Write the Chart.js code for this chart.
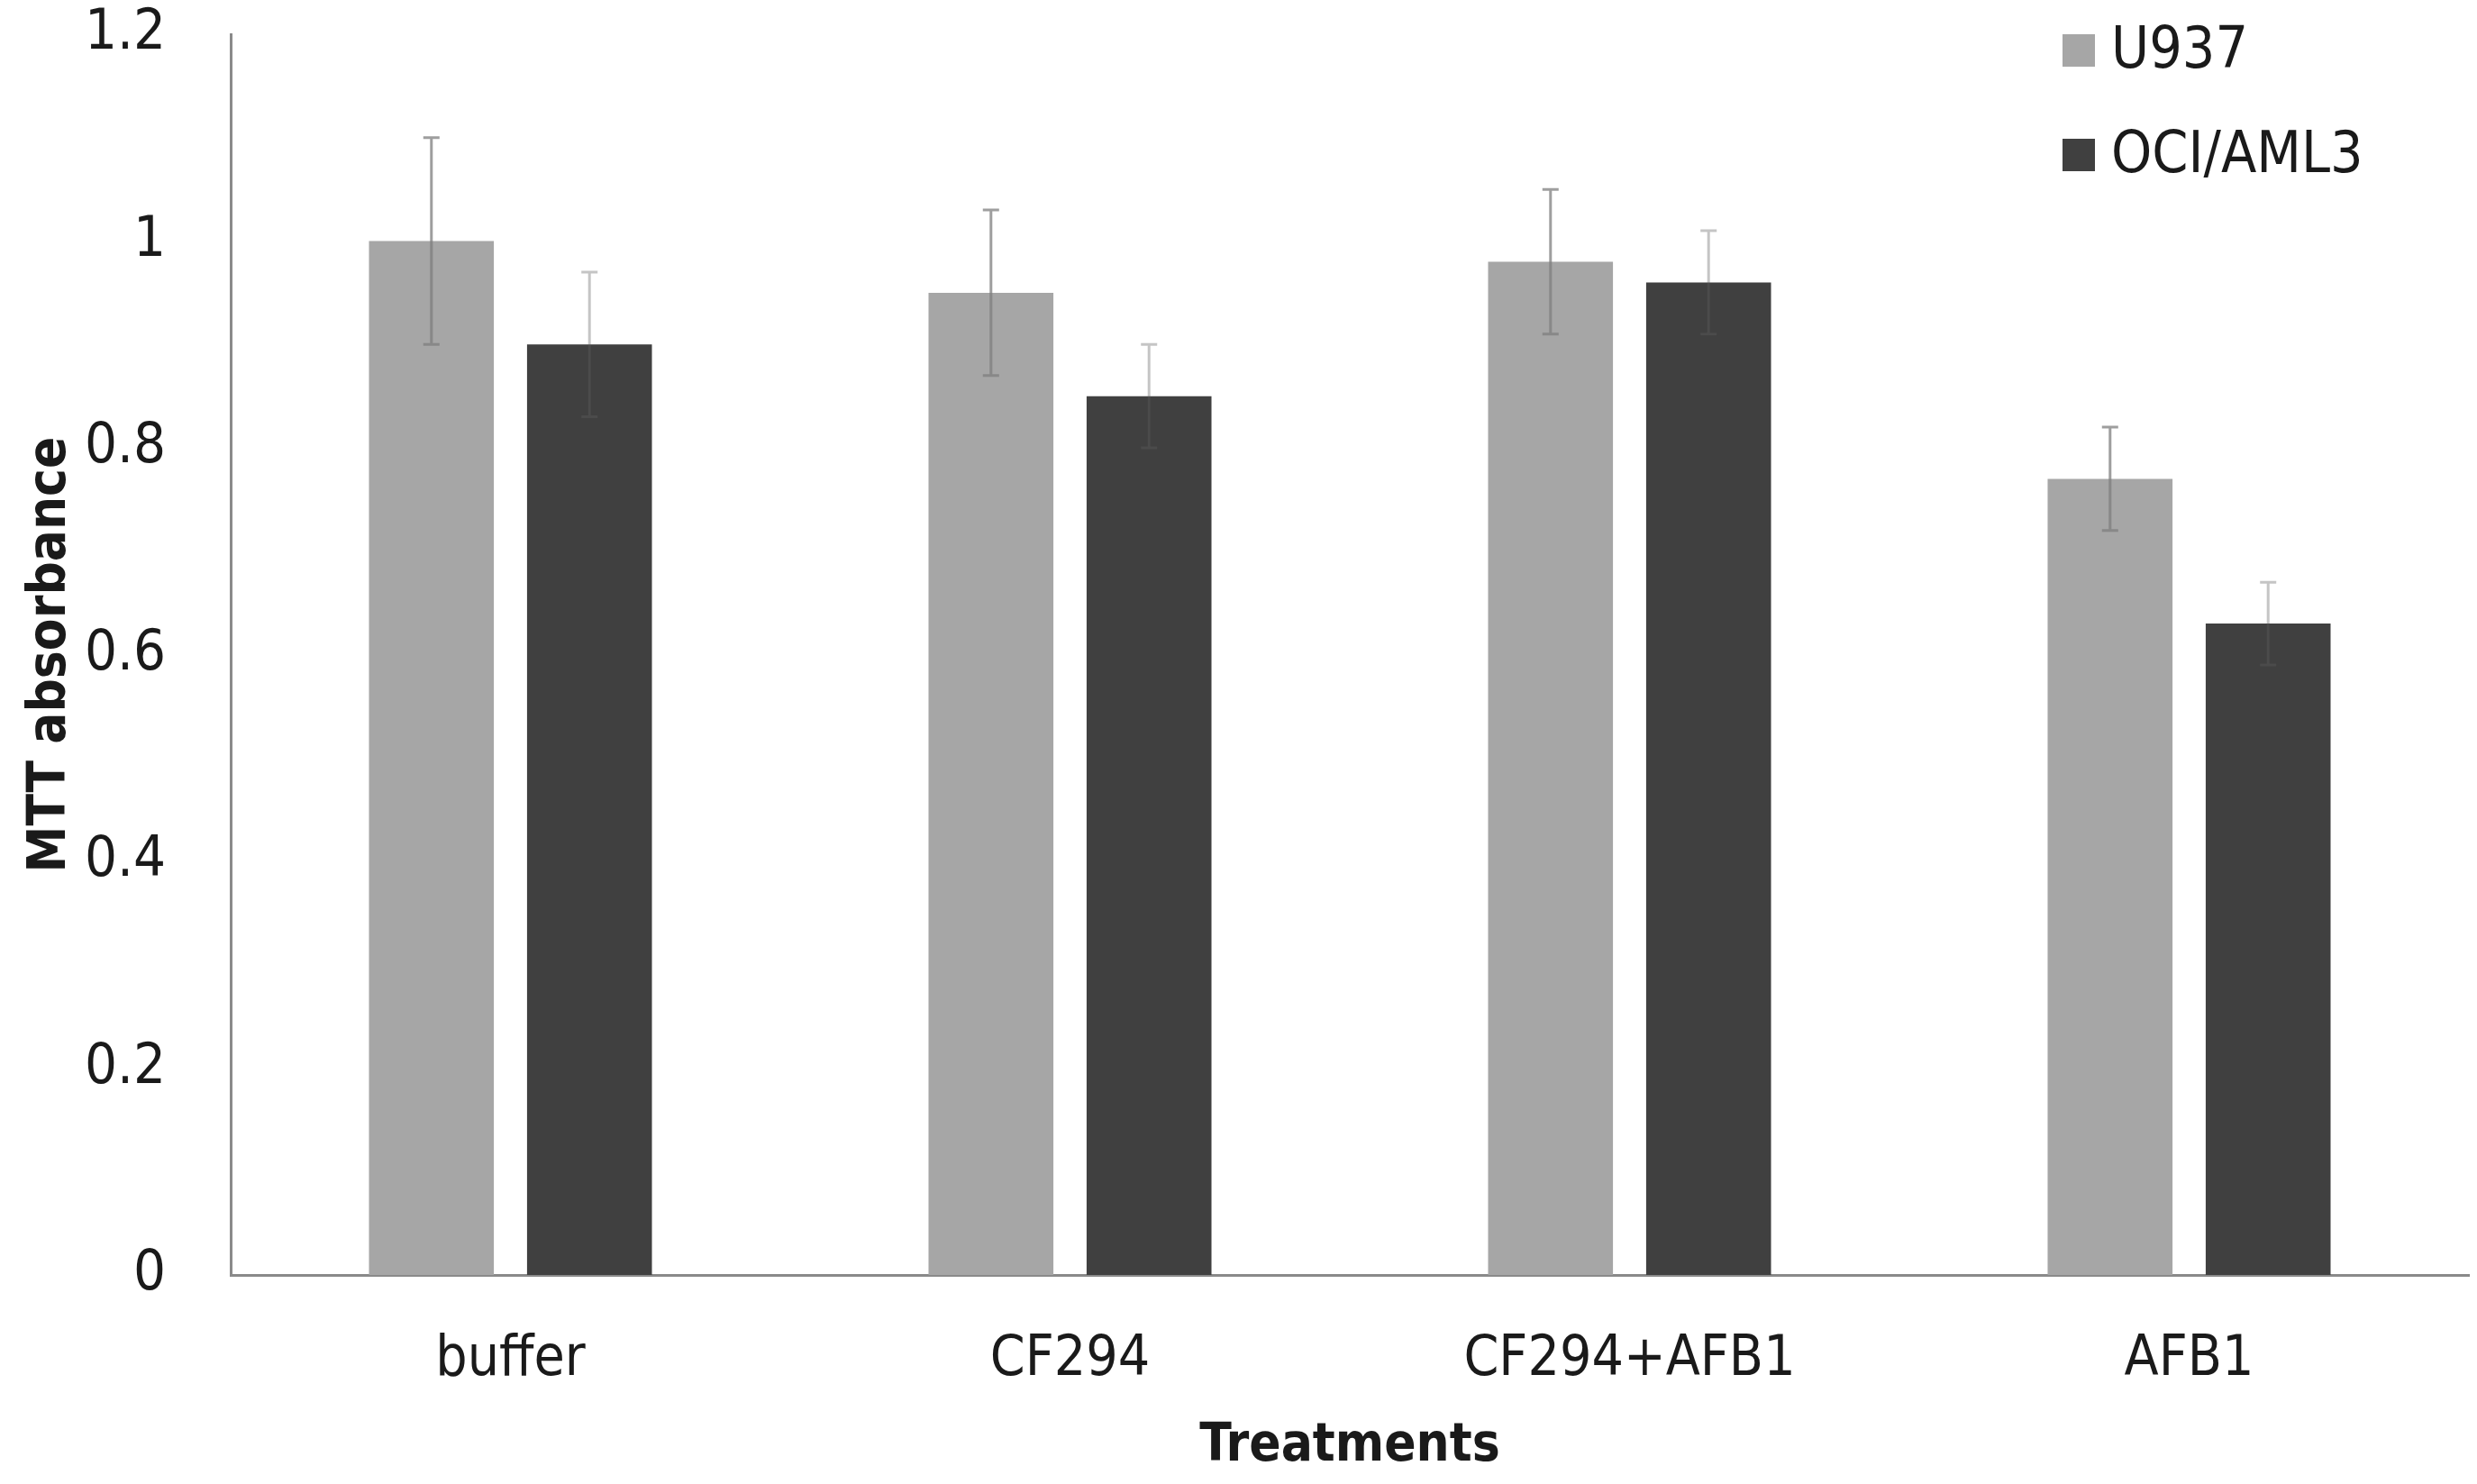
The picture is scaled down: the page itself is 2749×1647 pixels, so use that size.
<!DOCTYPE html>
<html lang="en">
<head>
    <meta charset="UTF-8">
    <title>MTT absorbance</title>
    <script src="https://cdn.jsdelivr.net/npm/chart.js"></script>
    <style>
        html, body { margin: 0; padding: 0; background: #fff; }
        #wrap { width: 2749px; height: 1647px; position: relative; }
    </style>
</head>
<body>
    <div id="wrap"><canvas id="mttChart"></canvas></div>
    <script>
        // data
        const treatments = ['buffer', 'CF294', 'CF294+AFB1', 'AFB1'];
        const u937 = [1.0, 0.95, 0.98, 0.77];
        const u937Err = [0.10, 0.08, 0.07, 0.05];
        const ociAml3 = [0.90, 0.85, 0.96, 0.63];
        const ociAml3Err = [0.07, 0.05, 0.05, 0.04];
        const yTicks = [0, 0.2, 0.4, 0.6, 0.8, 1, 1.2];

        const FONT = '"Liberation Sans Narrow", "DejaVu Sans Condensed", "Liberation Sans", sans-serif';

        // error bars (mean +/- err) on top of each bar
        const errorBars = {
            id: 'errorBars',
            afterDatasetsDraw(chart) {
                const ctx = chart.ctx;
                const y = chart.scales.y;
                chart.data.datasets.forEach((ds, i) => {
                    const meta = chart.getDatasetMeta(i);
                    ctx.save();
                    ctx.strokeStyle = ds.errColor;
                    ctx.lineWidth = 3;
                    meta.data.forEach((bar, j) => {
                        const top = y.getPixelForValue(ds.data[j] + ds.err[j]);
                        const bot = y.getPixelForValue(ds.data[j] - ds.err[j]);
                        ctx.beginPath();
                        ctx.moveTo(bar.x, top);
                        ctx.lineTo(bar.x, bot);
                        ctx.moveTo(bar.x - 9, top);
                        ctx.lineTo(bar.x + 9, top);
                        ctx.moveTo(bar.x - 9, bot);
                        ctx.lineTo(bar.x + 9, bot);
                        ctx.stroke();
                    });
                    ctx.restore();
                });
            }
        };

        // stacked legend in the top right corner
        const sideLegend = {
            id: 'sideLegend',
            afterDraw(chart) {
                const ctx = chart.ctx;
                ctx.save();
                ctx.font = '64px ' + FONT;
                ctx.textBaseline = 'middle';
                ctx.textAlign = 'left';
                chart.data.datasets.forEach((ds, i) => {
                    const cy = 56 + i * 116;
                    ctx.fillStyle = ds.backgroundColor;
                    ctx.fillRect(2289, cy - 18, 36, 36);
                    ctx.fillStyle = '#1a1a1a';
                    ctx.fillText(ds.label, 2343, cy + 2);
                });
                ctx.restore();
            }
        };

        new Chart(document.getElementById('mttChart'), {
            type: 'bar',
            data: {
                labels: treatments,
                datasets: [{
                    label: 'U937',
                    data: u937,
                    err: u937Err,
                    backgroundColor: '#a6a6a6',
                    errColor: 'rgba(125,125,125,0.75)',
                    categoryPercentage: 0.565,
                    barPercentage: 0.79
                }, {
                    label: 'OCI/AML3',
                    data: ociAml3,
                    err: ociAml3Err,
                    backgroundColor: '#404040',
                    errColor: 'rgba(93,93,93,0.36)',
                    categoryPercentage: 0.565,
                    barPercentage: 0.79
                }]
            },
            options: {
                responsive: true,
                maintainAspectRatio: false,
                devicePixelRatio: 1,
                animation: false,
                layout: { padding: { left: 0, top: 38, right: 9, bottom: 0 } },
                plugins: {
                    legend: { display: false },
                    tooltip: { enabled: false }
                },
                scales: {
                    x: {
                        grid: { display: false, drawTicks: false },
                        border: { display: true, color: '#8a8a8a', width: 3 },
                        ticks: {
                            padding: 58,
                            color: '#1a1a1a',
                            font: { family: FONT, size: 62 }
                        },
                        title: {
                            display: true,
                            text: 'Treatments',
                            color: '#1a1a1a',
                            padding: { top: 6, bottom: 6 },
                            font: { family: FONT, size: 58, weight: 'bold' }
                        },
                        afterFit(scale) {
                            scale.height = 232;
                            scale.paddingLeft = 0;
                            scale.paddingRight = 0;
                        }
                    },
                    y: {
                        min: 0,
                        max: 1.2,
                        grid: { display: false, drawTicks: false },
                        border: { display: true, color: '#8a8a8a', width: 3 },
                        afterBuildTicks(scale) {
                            scale.ticks = yTicks.map(v => ({ value: v }));
                        },
                        ticks: {
                            padding: 72,
                            color: '#1a1a1a',
                            font: { family: FONT, size: 63 },
                            callback: v => String(+v.toFixed(1))
                        },
                        title: {
                            display: true,
                            text: 'MTT absorbance',
                            color: '#1a1a1a',
                            padding: { top: 22, bottom: 0 },
                            font: { family: FONT, size: 58, weight: 'bold' }
                        },
                        afterFit(scale) {
                            scale.width = 256;
                            scale.paddingTop = 0;
                            scale.paddingBottom = 0;
                        }
                    }
                }
            },
            plugins: [errorBars, sideLegend]
        });
    </script>
</body>
</html>
